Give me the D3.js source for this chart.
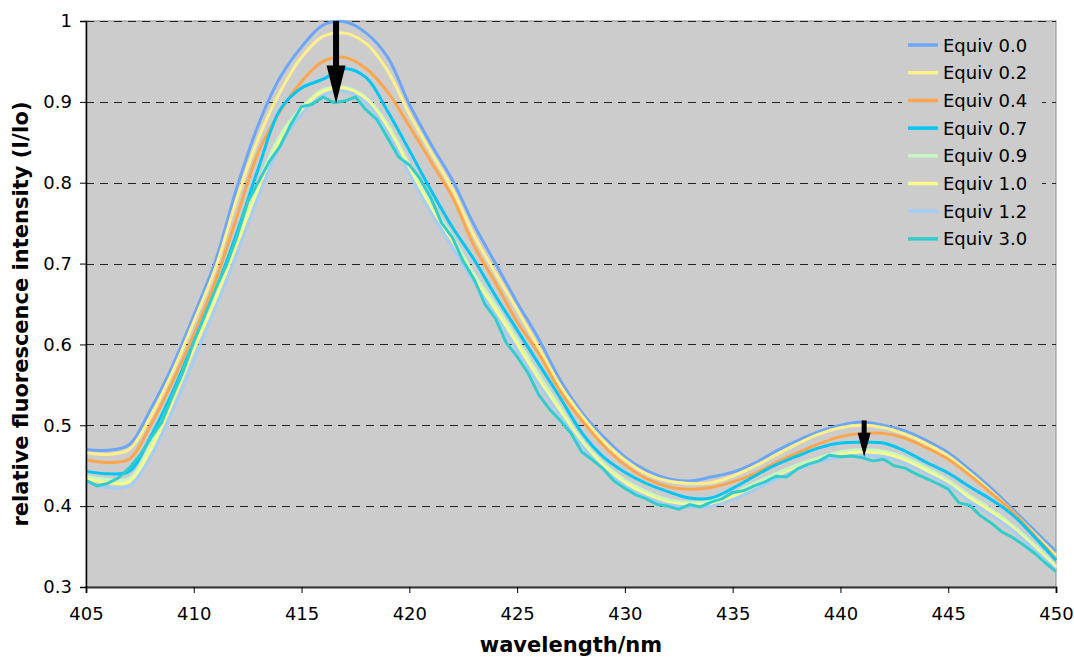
<!DOCTYPE html>
<html>
<head>
<meta charset="utf-8">
<script src="https://cdn.jsdelivr.net/npm/d3@7/dist/d3.min.js"></script>
<style>
  html, body { margin: 0; padding: 0; background: #ffffff; }
  svg { display: block; }
  text { font-family: "DejaVu Sans", Verdana, sans-serif; fill: #000; }
</style>
</head>
<body>
<svg id="chart" width="1074" height="659"></svg>
<script>
// Emission spectra of the fluorophore during titration (normalised to the free dye).
const wavelengths = [405, 406, 407, 408, 409, 410, 411, 412, 413, 414, 415, 416, 417, 418, 419, 420,
  421, 422, 423, 424, 425, 426, 427, 428, 429, 430, 431, 432, 433, 434, 435, 436, 437, 438, 439, 440,
  441, 442, 443, 444, 445, 446, 447, 448, 449, 450];

const equiv00 = [0.470, 0.469, 0.476, 0.520, 0.573, 0.636, 0.703, 0.794, 0.872, 0.930, 0.968, 0.995, 0.999, 0.985, 0.955, 0.897,
  0.848, 0.803, 0.748, 0.700, 0.652, 0.607, 0.556, 0.516, 0.486, 0.461, 0.444, 0.434, 0.431, 0.436, 0.442, 0.453, 0.468, 0.481, 0.492, 0.500,
  0.504, 0.500, 0.493, 0.481, 0.466, 0.445, 0.422, 0.396, 0.370, 0.344];
const equiv02 = [0.466, 0.464, 0.470, 0.511, 0.565, 0.628, 0.694, 0.780, 0.855, 0.912, 0.955, 0.981, 0.985, 0.972, 0.938, 0.885,
  0.838, 0.792, 0.735, 0.688, 0.643, 0.596, 0.549, 0.512, 0.481, 0.457, 0.440, 0.431, 0.428, 0.429, 0.437, 0.449, 0.463, 0.477, 0.489, 0.497,
  0.500, 0.497, 0.489, 0.477, 0.462, 0.441, 0.418, 0.393, 0.366, 0.339];
const equiv04 = [0.457, 0.454, 0.458, 0.500, 0.553, 0.612, 0.678, 0.758, 0.838, 0.888, 0.925, 0.950, 0.955, 0.941, 0.912, 0.870,
  0.826, 0.782, 0.722, 0.676, 0.628, 0.589, 0.542, 0.506, 0.475, 0.451, 0.434, 0.424, 0.421, 0.423, 0.430, 0.440, 0.454, 0.466, 0.477, 0.486,
  0.490, 0.490, 0.484, 0.472, 0.458, 0.438, 0.416, 0.393, 0.364, 0.335];
const equiv07 = [0.443, 0.440, 0.443, 0.486, 0.540, 0.603, 0.666, 0.738, 0.818, 0.890, 0.917, 0.928, 0.941, 0.930, 0.888, 0.840,
  0.791, 0.745, 0.705, 0.660, 0.618, 0.576, 0.534, 0.491, 0.461, 0.442, 0.428, 0.418, 0.410, 0.410, 0.422, 0.437, 0.451, 0.462, 0.472, 0.478,
  0.479, 0.478, 0.468, 0.454, 0.441, 0.424, 0.408, 0.389, 0.362, 0.333];
const equiv09 = [0.437, 0.433, 0.434, 0.476, 0.534, 0.599, 0.661, 0.730, 0.800, 0.858, 0.893, 0.915, 0.918, 0.905, 0.872, 0.822,
  0.775, 0.733, 0.687, 0.648, 0.606, 0.562, 0.522, 0.482, 0.453, 0.432, 0.418, 0.408, 0.404, 0.406, 0.416, 0.428, 0.440, 0.451, 0.460, 0.467,
  0.470, 0.468, 0.460, 0.447, 0.432, 0.413, 0.396, 0.376, 0.352, 0.326];
const equiv10 = [0.434, 0.429, 0.430, 0.470, 0.528, 0.594, 0.655, 0.724, 0.793, 0.852, 0.890, 0.913, 0.917, 0.903, 0.868, 0.818,
  0.770, 0.728, 0.682, 0.643, 0.601, 0.557, 0.518, 0.479, 0.450, 0.429, 0.415, 0.405, 0.402, 0.403, 0.412, 0.424, 0.436, 0.447, 0.457, 0.464,
  0.467, 0.465, 0.457, 0.444, 0.429, 0.410, 0.393, 0.373, 0.349, 0.324];
const equiv12 = [0.430, 0.423, 0.425, 0.461, 0.517, 0.580, 0.645, 0.712, 0.783, 0.845, 0.885, 0.908, 0.913, 0.899, 0.862, 0.811,
  0.763, 0.720, 0.677, 0.636, 0.593, 0.551, 0.512, 0.475, 0.446, 0.425, 0.411, 0.402, 0.399, 0.400, 0.408, 0.420, 0.433, 0.445, 0.455, 0.461,
  0.463, 0.461, 0.453, 0.440, 0.426, 0.406, 0.389, 0.370, 0.346, 0.321];

// The 3.0 equivalent trace is noisier and is kept at its finer sampling step.
const wavelengthsFine = [405.0, 405.5, 406.0, 406.5, 407.0, 407.5, 408.0, 408.5, 409.0, 409.5, 410.0, 410.5,
  411.0, 411.5, 412.0, 412.5, 413.0, 413.5, 414.0, 414.5, 415.0, 415.5, 416.0, 416.5, 417.0, 417.5,
  418.0, 418.5, 419.0, 419.5, 420.0, 420.5, 421.0, 421.5, 422.0, 422.5, 423.0, 423.5, 424.0, 424.5,
  425.0, 425.5, 426.0, 426.5, 427.0, 427.5, 428.0, 428.5, 429.0, 429.5, 430.0, 430.5, 431.0, 431.5,
  432.0, 432.5, 433.0, 433.5, 434.0, 434.5, 435.0, 435.5, 436.0, 436.5, 437.0, 437.5, 438.0, 438.5,
  439.0, 439.5, 440.0, 440.5, 441.0, 441.5, 442.0, 442.5, 443.0, 443.5, 444.0, 444.5, 445.0, 445.5,
  446.0, 446.5, 447.0, 447.5, 448.0, 448.5, 449.0, 449.5, 450.0];
const equiv30 = [0.432, 0.425, 0.428, 0.435, 0.447, 0.463, 0.484, 0.503, 0.535, 0.566, 0.603, 0.635,
  0.668, 0.697, 0.733, 0.776, 0.801, 0.826, 0.845, 0.872, 0.894, 0.897, 0.906, 0.899, 0.901, 0.906,
  0.890, 0.878, 0.855, 0.832, 0.822, 0.805, 0.781, 0.750, 0.732, 0.703, 0.681, 0.650, 0.632, 0.602,
  0.585, 0.565, 0.538, 0.520, 0.506, 0.490, 0.467, 0.457, 0.446, 0.431, 0.422, 0.414, 0.409, 0.402,
  0.400, 0.396, 0.402, 0.399, 0.405, 0.409, 0.417, 0.419, 0.425, 0.430, 0.437, 0.436, 0.446, 0.452,
  0.456, 0.463, 0.461, 0.462, 0.460, 0.456, 0.458, 0.450, 0.447, 0.440, 0.434, 0.428, 0.421, 0.404,
  0.401, 0.388, 0.379, 0.368, 0.361, 0.352, 0.342, 0.330, 0.319];

const seriesNames = ["Equiv 0.0", "Equiv 0.2", "Equiv 0.4", "Equiv 0.7", "Equiv 0.9", "Equiv 1.0", "Equiv 1.2", "Equiv 3.0"];
const seriesColors = ["#6ea6f7", "#fff08c", "#ffa64d", "#00c4f4", "#c6f7c2", "#fafa8c", "#a4cdf7", "#33cccc"];

const xTicks = [405, 410, 415, 420, 425, 430, 435, 440, 445, 450];
const yTicks = [0.3, 0.4, 0.5, 0.6, 0.7, 0.8, 0.9, 1.0];

// Arrows marking the drop of the two emission maxima.
const arrowWavelengths = [416.6, 441.1];
const arrowFrom = [1.0, 0.506];
const arrowTo = [0.898, 0.461];

const smooth = d3.curveCatmullRom.alpha(0.5);
const series = [
  { name: seriesNames[0], color: seriesColors[0], x: wavelengths, y: equiv00, curve: smooth },
  { name: seriesNames[1], color: seriesColors[1], x: wavelengths, y: equiv02, curve: smooth },
  { name: seriesNames[2], color: seriesColors[2], x: wavelengths, y: equiv04, curve: smooth },
  { name: seriesNames[3], color: seriesColors[3], x: wavelengths, y: equiv07, curve: smooth },
  { name: seriesNames[4], color: seriesColors[4], x: wavelengths, y: equiv09, curve: smooth },
  { name: seriesNames[5], color: seriesColors[5], x: wavelengths, y: equiv10, curve: smooth },
  { name: seriesNames[6], color: seriesColors[6], x: wavelengths, y: equiv12, curve: smooth },
  { name: seriesNames[7], color: seriesColors[7], x: wavelengthsFine, y: equiv30, curve: d3.curveLinear }
];

const svg = d3.select("#chart");
const margin = { left: 86, right: 18, top: 21, bottom: 72 };
const W = 1074, H = 659;
const x = d3.scaleLinear().domain([405, 450]).range([margin.left, W - margin.right]);
const y = d3.scaleLinear().domain([0.3, 1.0]).range([H - margin.bottom, margin.top]);

// plot area
svg.append("rect")
  .attr("x", x(405)).attr("y", y(1.0))
  .attr("width", x(450) - x(405)).attr("height", y(0.3) - y(1.0))
  .attr("fill", "#cccccc").attr("stroke", "#8c8c8c").attr("stroke-width", 1);

// horizontal dashed gridlines
svg.append("g").selectAll("line")
  .data(yTicks.filter(d => d > 0.3))
  .join("line")
  .attr("x1", x(405)).attr("x2", x(450))
  .attr("y1", d => Math.round(y(d)) + 0.5).attr("y2", d => Math.round(y(d)) + 0.5)
  .attr("stroke", "#222").attr("stroke-width", 1.2)
  .attr("stroke-dasharray", "8,6");

// spectra
const plot = svg.append("g");
series.forEach(s => {
  const pts = s.x.map((w, i) => [w, s.y[i]]);
  plot.append("path")
    .datum(pts)
    .attr("fill", "none")
    .attr("stroke", s.color)
    .attr("stroke-width", 3)
    .attr("stroke-linejoin", "round")
    .attr("d", d3.line().x(d => x(d[0])).y(d => y(d[1])).curve(s.curve));
});

// arrows
arrowWavelengths.forEach((w, i) => {
  const cx = x(w), y0 = y(arrowFrom[i]), y1 = y(arrowTo[i]);
  const len = y1 - y0;
  const big = i === 0;
  const shaft = big ? 6 : 5;
  const headW = big ? 19 : 13;
  const headL = big ? 38 : 24;
  const g = svg.append("g").attr("fill", "#000");
  g.append("rect").attr("x", cx - shaft / 2).attr("y", y0).attr("width", shaft).attr("height", len - headL + 2);
  g.append("path").attr("d",
    `M${cx - headW / 2},${y1 - headL} L${cx + headW / 2},${y1 - headL} L${cx},${y1} Z`);
});

// axes
const xAxis = d3.axisBottom(x).tickValues(xTicks).tickFormat(d3.format("d")).tickSize(6).tickPadding(14);
const gx = svg.append("g").attr("transform", `translate(0,${y(0.3)})`).call(xAxis);
gx.select(".domain").attr("stroke", "#333").attr("stroke-width", 2);
gx.selectAll(".tick line").attr("stroke", "#000");
gx.selectAll("text").attr("font-size", 18).attr("font-family", "DejaVu Sans, Verdana, sans-serif");

const yAxis = d3.axisLeft(y).tickValues(yTicks).tickFormat(d => d === 1 ? "1" : d3.format(".1f")(d)).tickSize(6).tickPadding(8);
const gy = svg.append("g").attr("transform", `translate(${x(405)},0)`).call(yAxis);
gy.select(".domain").attr("stroke", "#000").attr("stroke-width", 1.5);
gy.selectAll(".tick line").attr("stroke", "#000");
gy.selectAll("text").attr("font-size", 18).attr("font-family", "DejaVu Sans, Verdana, sans-serif");

// axis titles
svg.append("text")
  .attr("x", (x(405) + x(450)) / 2).attr("y", 652)
  .attr("text-anchor", "middle").attr("font-size", 21).attr("font-weight", "bold")
  .text("wavelength/nm");
svg.append("text")
  .attr("transform", `translate(28,314) rotate(-90)`)
  .attr("text-anchor", "middle").attr("font-size", 21).attr("font-weight", "bold")
  .text("relative fluorescence intensity (I/Io)");

// legend
const legend = svg.append("g");
legend.append("rect")
  .attr("x", 902).attr("y", 30).attr("width", 140).attr("height", 224)
  .attr("fill", "#cccccc");
seriesNames.forEach((name, i) => {
  const ly = 45 + i * 27.7;
  legend.append("line")
    .attr("x1", 908).attr("x2", 938).attr("y1", ly).attr("y2", ly)
    .attr("stroke", seriesColors[i]).attr("stroke-width", 3.5);
  legend.append("text")
    .attr("x", 943).attr("y", ly + 6.5)
    .attr("font-size", 18)
    .text(name);
});
</script>
</body>
</html>
